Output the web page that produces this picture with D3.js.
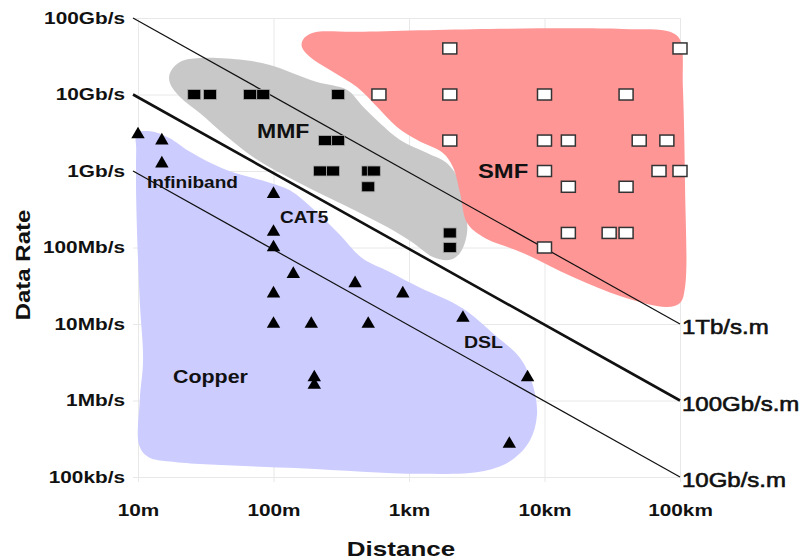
<!DOCTYPE html>
<html>
<head>
<meta charset="utf-8">
<script src="https://cdn.jsdelivr.net/npm/d3@7"></script>
<style>
  body { margin: 0; background: #fff; }
  text { font-family: "Liberation Sans", Arial, sans-serif; fill: #111; }
</style>
</head>
<body>
<div id="chart"></div>
<script>
// values: distance in metres, rate in bit/s
var distanceTicks = [10, 100, 1000, 1e4, 1e5];
var distanceLabels = ["10m", "100m", "1km", "10km", "100km"];
var rateTicks = [1e5, 1e6, 1e7, 1e8, 1e9, 1e10, 1e11];
var rateLabels = ["100kb/s", "1Mb/s", "10Mb/s", "100Mb/s", "1Gb/s", "10Gb/s", "100Gb/s"];

// copper links (triangles)
var copperPoints = [
  [10, 3e9], [15, 2.5e9], [15, 1.25e9], [100, 5e8], [100, 1.6e8], [100, 1e8],
  [140, 4.5e7], [100, 2.5e7], [100, 1e7], [400, 3.4e7], [900, 2.5e7], [190, 1e7],
  [500, 1e7], [2500, 1.2e7], [200, 2e6], [200, 1.6e6], [7500, 2e6], [5500, 2.7e5]
];
// multimode fibre (black squares)
var mmfPoints = [
  [26, 1e10], [34, 1e10], [67, 1e10], [84, 1e10], [300, 1e10], [240, 2.5e9],
  [300, 2.5e9], [220, 1e9], [275, 1e9], [500, 1e9], [550, 1e9], [500, 6.22e8],
  [2000, 1.55e8], [2000, 1e8]
];
// single mode fibre (white squares)
var smfPoints = [
  [2000, 4e10], [1e5, 4e10], [600, 1e10], [2000, 1e10], [1e4, 1e10], [4e4, 1e10],
  [2000, 2.5e9], [1e4, 2.5e9], [1.5e4, 2.5e9], [5e4, 2.5e9], [8e4, 2.5e9],
  [1e4, 1e9], [7e4, 1e9], [1e5, 1e9], [1.5e4, 6.22e8], [4e4, 6.22e8],
  [1.5e4, 1.55e8], [3e4, 1.55e8], [4e4, 1.55e8], [1e4, 1e8]
];

// hand drawn shaded regions, outline as [distance, rate]
var copperOutline = [
  [9.8, 3.1e9], [12.3, 3.3e9], [17, 2.7e9], [24, 1.8e9], [45, 1.03e9], [90, 7.2e8],
  [132, 5.6e8], [200, 3.1e8], [310, 1.46e8], [450, 7.3e7], [720, 4.8e7], [1200, 3e7],
  [2500, 1.6e7], [4300, 7.2e6], [6600, 3.6e6], [8200, 1.6e6], [8800, 6.5e5],
  [7800, 3e5], [5750, 1.67e5], [3600, 1.2e5], [1200, 1.1e5], [157, 1.3e5],
  [18.7, 1.57e5], [11.9, 1.83e5], [10.2, 2.6e5], [10.3, 1e6], [10.9, 3.4e6],
  [10.3, 2e7], [9.7, 4.2e8], [9.7, 1.9e9]
];
var mmfOutline = [
  [17.2, 1.9e10], [20.4, 2.66e10], [28.7, 3e10], [60, 2.83e10], [94, 2.43e10],
  [139, 1.9e10], [209, 1.46e10], [348, 1.15e10], [458, 6.9e9], [611, 4.2e9],
  [860, 2.54e9], [1360, 1.72e9], [1900, 1.27e9], [2380, 7e8], [2590, 3.4e8],
  [2680, 1.55e8], [2380, 8.5e7], [2010, 6.9e7], [1500, 7.5e7], [1070, 1.15e8],
  [690, 1.85e8], [435, 2.83e8], [275, 4.2e8], [177, 6.2e8], [112, 9.4e8],
  [70.6, 1.52e9], [45.4, 2.8e9], [28.7, 5.7e9], [20.4, 9.3e9], [17.2, 1.41e10]
];
var smfOutline = [
  [165, 5.2e10], [196, 6.4e10], [413, 6.6e10], [3960, 7.2e10], [37900, 7.2e10],
  [84300, 6.6e10], [100000, 5.2e10], [105000, 1.25e10], [109000, 6.2e8],
  [109000, 3.05e7], [100000, 1.88e7], [80200, 1.67e7], [37900, 2.25e7],
  [16200, 4.1e7], [6930, 8.5e7], [3520, 1.37e8], [2680, 2.1e8], [2380, 5.2e8],
  [2110, 1.13e9], [1780, 1.72e9], [1150, 2.54e9], [815, 3.76e9], [581, 6.9e9],
  [413, 1.25e10], [261, 2.09e10], [186, 3.09e10], [162, 4.18e10]
];

// bandwidth x distance lines, rate at 10m and at 100km
var bwdNames = ["1Tb/s.m", "100Gb/s.m", "10Gb/s.m"];
var bwdStartRate = [1e11, 1e10, 1e9];
var bwdEndRate = [1e7, 1e6, 1e5];

var width = 805, height = 560;
var plotLeft = 138, plotRight = 680, plotTop = 18, plotBottom = 477;

var x = d3.scaleLog().domain([10, 1e5]).range([plotLeft, plotRight]);
var y = d3.scaleLog().domain([1e5, 1e11]).range([plotBottom, plotTop]);

var svg = d3.select("#chart").append("svg")
    .attr("width", width)
    .attr("height", height);

// axes, with the tick lines stretched into a light grid
var yAxis = svg.append("g")
    .attr("transform", "translate(" + plotLeft + ",0)")
    .call(d3.axisLeft(y)
      .tickValues(rateTicks)
      .tickFormat(function(d, i) { return rateLabels[i]; })
      .tickSizeOuter(0));
yAxis.select(".domain").remove();
yAxis.selectAll(".tick line")
    .attr("x1", -5)
    .attr("x2", plotRight - plotLeft)
    .attr("stroke", "#e8e8e8");
yAxis.selectAll(".tick text")
    .attr("x", -13 / 1.3)
    .attr("transform", "scale(1.3,1)")
    .attr("fill", "#111")
    .style("font-size", "16px")
    .style("font-weight", "bold")
    .style("font-family", "'Liberation Sans', Arial, sans-serif");

var xAxis = svg.append("g")
    .attr("transform", "translate(0," + plotBottom + ")")
    .call(d3.axisBottom(x)
      .tickValues(distanceTicks)
      .tickFormat(function(d, i) { return distanceLabels[i]; })
      .tickSizeOuter(0));
xAxis.select(".domain").remove();
xAxis.selectAll(".tick line")
    .attr("y1", 5)
    .attr("y2", -(plotBottom - plotTop))
    .attr("stroke", "#e8e8e8");
xAxis.selectAll(".tick text")
    .attr("y", 39)
    .attr("dy", null)
    .attr("transform", "scale(1.3,1)")
    .attr("fill", "#111")
    .style("font-size", "16px")
    .style("font-weight", "bold")
    .style("font-family", "'Liberation Sans', Arial, sans-serif");

// shaded regions
var blob = d3.line()
    .x(function(d) { return x(d[0]); })
    .y(function(d) { return y(d[1]); })
    .curve(d3.curveCatmullRomClosed.alpha(0.5));

svg.append("path").attr("d", blob(copperOutline)).attr("fill", "#ccccff");
svg.append("path").attr("d", blob(mmfOutline)).attr("fill", "#c8c8c8");
svg.append("path").attr("d", blob(smfOutline)).attr("fill", "#ff9696");

// bandwidth-distance product lines
bwdNames.forEach(function(name, i) {
  svg.append("line")
      .attr("x1", x(10) - 5).attr("y1", y(bwdStartRate[i]))
      .attr("x2", x(1e5)).attr("y2", y(bwdEndRate[i]))
      .attr("stroke", "#111")
      .attr("stroke-width", i == 1 ? 2.6 : 1.2);
  svg.append("text")
      .attr("transform", "translate(" + (x(1e5) + 2) + "," + (y(bwdEndRate[i]) + 10) + ") scale(1.2,1)")
      .style("font-size", "20px")
      .style("stroke", "#111")
      .style("stroke-width", "0.6px")
      .text(name);
});

// markers
svg.selectAll(".copper")
    .data(copperPoints)
  .enter().append("path")
    .attr("class", "copper")
    .attr("d", d3.symbol(d3.symbolTriangle, 78))
    .attr("transform", function(d) { return "translate(" + x(d[0]) + "," + y(d[1]) + ")"; })
    .attr("fill", "#000");

svg.selectAll(".mmf")
    .data(mmfPoints)
  .enter().append("rect")
    .attr("class", "mmf")
    .attr("x", function(d) { return x(d[0]) - 6.5; })
    .attr("y", function(d) { return y(d[1]) - 5; })
    .attr("width", 13)
    .attr("height", 10)
    .attr("fill", "#000")
    .attr("stroke", "#aaa")
    .attr("stroke-width", 0.8);

svg.selectAll(".smf")
    .data(smfPoints)
  .enter().append("rect")
    .attr("class", "smf")
    .attr("x", function(d) { return x(d[0]) - 7; })
    .attr("y", function(d) { return y(d[1]) - 5.5; })
    .attr("width", 14)
    .attr("height", 11)
    .attr("fill", "#fff")
    .attr("stroke", "#333")
    .attr("stroke-width", 1.5);

// text in the plot
function note(txt, px, py, size, sx) {
  svg.append("text")
      .attr("transform", "translate(" + px + "," + py + ") scale(" + sx + ",1)")
      .style("font-size", size + "px")
      .style("font-weight", "bold")
      .text(txt);
}
note("MMF", 257, 138, 20, 1.15);
note("SMF", 478, 178, 20, 1.19);
note("Copper", 173, 383, 18, 1.19);
note("Infiniband", 147, 188, 16, 1.19);
note("CAT5", 280, 223, 17, 1.12);
note("DSL", 464, 348, 17, 1.15);

// axis titles
svg.append("text")
    .attr("transform", "translate(401,556) scale(1.3,1)")
    .attr("text-anchor", "middle")
    .style("font-size", "20px")
    .style("font-weight", "bold")
    .text("Distance");
svg.append("text")
    .attr("transform", "translate(30,265) rotate(-90) scale(1.2,1)")
    .attr("text-anchor", "middle")
    .style("font-size", "20px")
    .style("font-weight", "bold")
    .text("Data Rate");
</script>
</body>
</html>
